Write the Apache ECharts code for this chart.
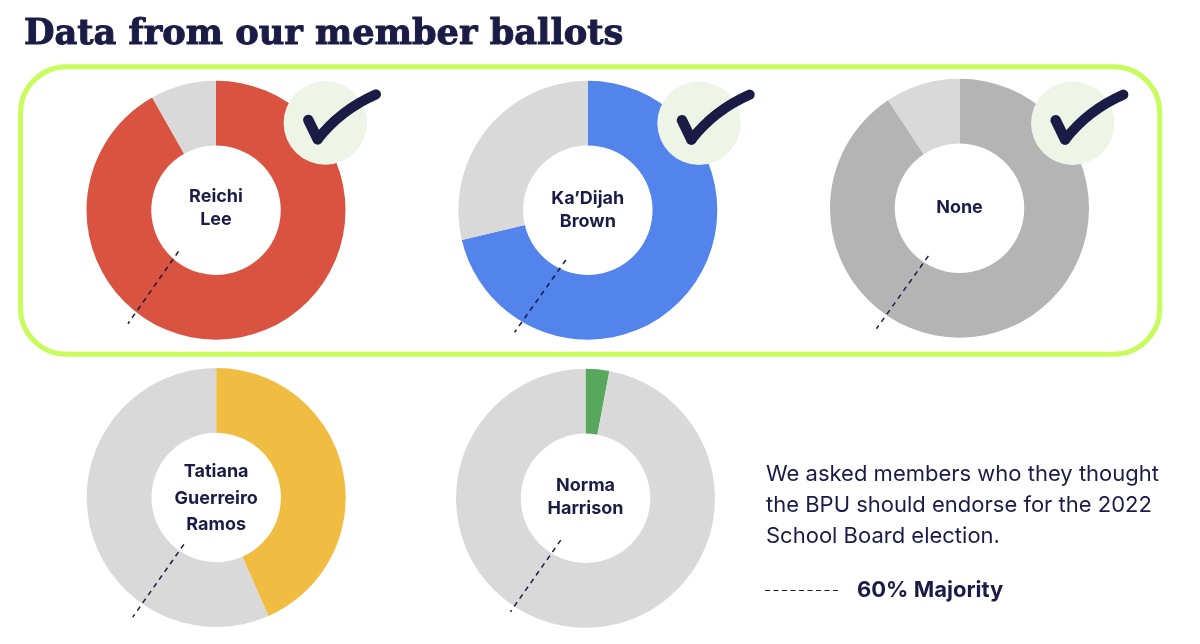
<!DOCTYPE html>
<html>
<head>
<meta charset="utf-8">
<style>html,body{margin:0;padding:0;background:#fff}#c{width:1200px;height:644px}</style>
<script src="https://cdn.jsdelivr.net/npm/echarts@6/dist/echarts.min.js"></script>
</head>
<body>
<div id="c"></div>
<script>
// ---- data ----
const titleText = 'Data from our member ballots';
const candidates = ['Reichi\nLee', 'Ka\u2019Dijah\nBrown', 'None', 'Tatiana\nGuerreiro\nRamos', 'Norma\nHarrison'];
const shares = [91.8, 71.3, 90.7, 43.4, 2.95];
const others = [8.2, 28.7, 9.3, 56.6, 97.05];
// 60% majority tick per doughnut: [radius as % of the ring's outer radius, position round the ring in %]
const majorityTicks = [
  [[43, 61.75], [111, 60.5]],
  [[42, 56.6], [110, 58.6]],
  [[44, 59.2], [113, 59.6]],
  [[44, 59.6], [112.5, 59.7]],
  [[37.5, 58.5], [105, 59.3]]
];
const noteLines = ['We asked members who they thought', 'the BPU should endorse for the 2022', 'School Board election.'];
const legendLabel = '60% Majority';

// ---- layout and style ----
const centers = [[216, 210.2], [587.8, 210.2], [959.5, 208.2], [216.2, 497.5], [585.5, 498.3]];
const shareColors = ['#d95340', '#5284ec', '#b4b4b4', '#f0bc42', '#57a85c'];
const otherColor = '#d9d9d9';
const labelOffsets = [-2, -0.5, -0.5, 1, -1.5];
const labelHeights = [23, 23, 23, 26.5, 23];
const badges = [[325.3, 123], [699, 123.3], [1072.7, 123.3]];
const NAVY = '#1b1c45', R = 129.5, TICK_MAX = 115;
const SANS = '"Inter","Noto Sans",sans-serif';

const series = [], polar = [], angleAxis = [], radiusAxis = [];
candidates.forEach((name, i) => {
  polar.push({center: centers[i], radius: R * TICK_MAX / 100});
  angleAxis.push({polarIndex: i, show: false, min: 0, max: 100, startAngle: 90, clockwise: true});
  radiusAxis.push({polarIndex: i, show: false, min: 0, max: TICK_MAX});
  series.push({
    type: 'pie', silent: true, center: centers[i], radius: [R / 2, R], startAngle: 90, z: 2,
    avoidLabelOverlap: false, labelLine: {show: false},
    label: {show: false},
    emphasis: {disabled: true},
    data: [
      {value: shares[i], name, itemStyle: {color: shareColors[i]},
       label: {show: true, position: 'center', formatter: name, offset: [0, labelOffsets[i]],
               color: NAVY, fontFamily: SANS, fontWeight: 700, fontSize: 18, lineHeight: labelHeights[i]}},
      {value: others[i], name: 'Other', itemStyle: {color: otherColor}}
    ]
  });
});
majorityTicks.forEach((t, i) => {
  series.push({
    type: 'line', coordinateSystem: 'polar', polarIndex: i, data: t, z: 5, silent: true,
    showSymbol: false, symbol: 'none', clip: false,
    lineStyle: {color: NAVY, width: 1.5, type: [5, 4.5]}
  });
});

const graphic = [
  {type: 'rect', z: 1, silent: true,
   shape: {x: 20.5, y: 66.8, width: 1139.3, height: 287.4, r: 46},
   style: {fill: 'none', stroke: '#c8fb5c', lineWidth: 5}}
];
badges.forEach(b => {
  graphic.push({type: 'circle', z: 10, silent: true, shape: {cx: b[0], cy: b[1], r: 41.7}, style: {fill: '#eef4e6'}});
  graphic.push({type: 'line', z: 11, silent: true, x: b[0], y: b[1],
    shape: {x1: -17, y1: -3, x2: -7.6, y2: 16.3},
    style: {stroke: NAVY, lineWidth: 10.5, lineCap: 'round'}});
  graphic.push({type: 'bezierCurve', z: 11, silent: true, x: b[0], y: b[1],
    shape: {x1: -7.6, y1: 16.3, x2: 50.7, y2: -28.7, cpx1: 15, cpy1: -13},
    style: {fill: 'none', stroke: NAVY, lineWidth: 10, lineCap: 'round'}});
});
noteLines.forEach((line, i) => {
  graphic.push({type: 'text', z: 10, silent: true, x: 766, y: 474 + i * 31,
    style: {text: line, fill: NAVY, fontFamily: SANS, fontSize: 22, fontWeight: 400, verticalAlign: 'middle', align: 'left'}});
});
graphic.push({type: 'line', z: 10, silent: true, shape: {x1: 765, y1: 590.5, x2: 840, y2: 590.5},
  style: {stroke: NAVY, lineWidth: 1.1, lineDash: [5, 3.5]}});
graphic.push({type: 'text', z: 10, silent: true, x: 857, y: 590.5,
  style: {text: legendLabel, fill: NAVY, fontFamily: SANS, fontSize: 22, fontWeight: 700, verticalAlign: 'middle', align: 'left'}});

const chart = echarts.init(document.getElementById('c'), null, {renderer: 'canvas'});
chart.setOption({
  animation: false,
  backgroundColor: '#ffffff',
  title: {text: titleText, left: 19, top: 12,
    textStyle: {color: NAVY, fontFamily: '"DejaVu Serif",serif', fontWeight: 'bold', fontSize: 35.2,
      textBorderColor: NAVY, textBorderWidth: 1}},
  polar, angleAxis, radiusAxis, series, graphic
});
</script>
</body>
</html>
